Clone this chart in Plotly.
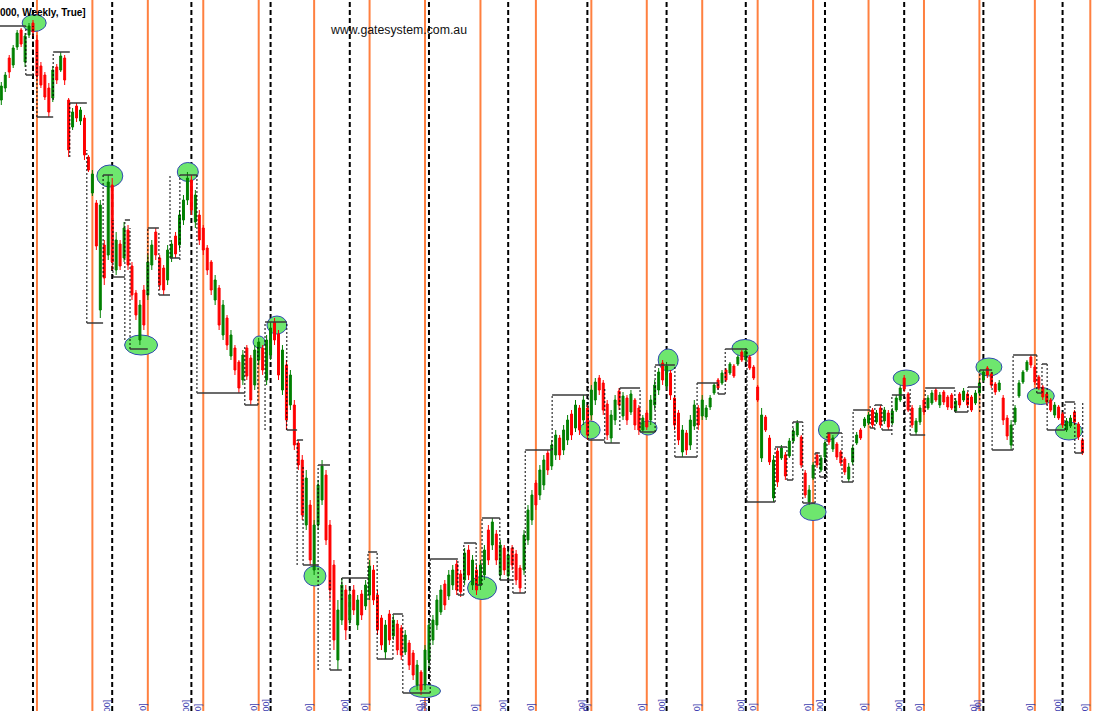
import plotly.graph_objects as go

# ---------------- price data (weekly bars, arbitrary price units) ----------------
weeks = list(range(274))

open_ = [
    611, 623, 653, 646, 664, 681, 649, 676, 688, 671,
    645, 636, 623, 613, 644, 641, 653, 611, 584, 605,
    590, 593, 554, 518, 508, 401, 466, 456, 526, 441,
    467, 453, 481, 445, 418, 371, 421, 416, 446, 479,
    453, 443, 431, 453, 475, 466, 491, 511, 531, 489,
    496, 483, 463, 449, 411, 423, 376, 393, 355, 363,
    349, 331, 363, 353, 326, 351, 363, 331, 356, 389,
    377, 321, 346, 306, 306, 268, 251, 186, 206, 141,
    186, 211, 236, 186, 146, 51, 91, 121, 91, 121,
    86, 117, 105, 116, 141, 116, 93, 59, 97, 75,
    87, 83, 59, 68, 58, 26, 39, 26, 51, 71,
    86, 99, 127, 115, 126, 147, 137, 131, 161, 126,
    141, 126, 136, 181, 166, 177, 136, 163, 135, 163,
    157, 143, 141, 171, 191, 228, 216, 226, 258, 245,
    256, 273, 261, 271, 297, 283, 303, 291, 303, 296,
    311, 333, 328, 307, 273, 291, 320, 295, 313, 299,
    311, 303, 281, 298, 291, 306, 321, 348, 325, 338,
    313, 298, 259, 278, 266, 285, 303, 295, 294, 304,
    318, 331, 328, 341, 338, 345, 347, 359, 351, 354,
    344, 324, 253, 294, 273, 213, 260, 253, 256, 255,
    270, 276, 274, 238, 209, 233, 256, 241, 254, 277,
    262, 267, 259, 252, 232, 249, 268, 281, 285, 288,
    301, 289, 303, 290, 298, 288, 301, 311, 333, 317,
    303, 279, 289, 311, 303, 308, 321, 306, 319, 314,
    316, 300, 317, 311, 317, 314, 308, 318, 331, 343,
    337, 327, 321, 313, 293, 266, 289, 315, 329, 341,
    354, 344, 334, 324, 317, 311, 296, 304, 297, 281,
    285, 299, 287, 271,
]
high = [
    629, 639, 656, 666, 681, 683, 678, 688, 691, 676,
    649, 639, 628, 645, 647, 659, 656, 613, 603, 608,
    604, 596, 556, 541, 511, 511, 471, 536, 533, 479,
    471, 489, 486, 449, 421, 411, 426, 456, 471, 483,
    456, 446, 466, 471, 479, 501, 516, 539, 536, 521,
    501, 486, 466, 451, 436, 426, 411, 396, 381, 366,
    351, 361, 366, 356, 366, 373, 366, 376, 389, 393,
    381, 366, 351, 341, 311, 271, 256, 241, 211, 191,
    231, 251, 241, 191, 151, 111, 133, 126, 121, 126,
    116, 121, 131, 151, 146, 121, 96, 91, 101, 96,
    91, 86, 81, 71, 61, 51, 41, 66, 91, 96,
    116, 126, 131, 141, 146, 151, 141, 163, 166, 156,
    146, 151, 166, 186, 193, 181, 171, 166, 161, 166,
    161, 146, 181, 206, 221, 231, 246, 256, 261, 271,
    281, 276, 286, 296, 301, 311, 306, 316, 306, 326,
    333, 336, 331, 311, 301, 316, 323, 319, 316, 321,
    313, 306, 296, 301, 316, 331, 343, 351, 349, 341,
    316, 301, 286, 281, 296, 311, 306, 316, 306, 316,
    328, 333, 341, 343, 349, 347, 356, 361, 363, 356,
    346, 326, 303, 296, 276, 256, 263, 266, 259, 273,
    283, 291, 276, 241, 226, 249, 259, 256, 271, 279,
    276, 269, 261, 254, 248, 266, 279, 283, 294, 299,
    303, 301, 306, 304, 301, 303, 316, 326, 336, 319,
    306, 293, 306, 313, 316, 321, 323, 319, 321, 316,
    318, 313, 319, 323, 319, 316, 321, 331, 341, 345,
    339, 329, 331, 316, 296, 291, 306, 331, 341, 351,
    356, 346, 336, 326, 319, 313, 309, 306, 299, 293,
    296, 301, 289, 273,
]
low = [
    606, 619, 633, 643, 661, 664, 644, 673, 675, 631,
    623, 611, 594, 609, 627, 639, 626, 554, 581, 589,
    586, 551, 539, 515, 461, 393, 426, 451, 441, 436,
    441, 449, 441, 411, 391, 366, 381, 411, 441, 451,
    421, 416, 426, 449, 453, 461, 486, 506, 496, 483,
    466, 456, 436, 416, 406, 381, 371, 361, 351, 336,
    318, 326, 331, 306, 321, 346, 336, 326, 351, 366,
    331, 316, 281, 301, 261, 241, 191, 181, 146, 136,
    181, 206, 166, 111, 61, 41, 86, 71, 86, 96,
    81, 91, 101, 111, 106, 76, 61, 52, 66, 71,
    56, 51, 56, 41, 31, 21, 16, 21, 43, 66,
    81, 96, 101, 111, 121, 116, 114, 126, 131, 121,
    116, 121, 131, 146, 161, 146, 131, 136, 131, 141,
    126, 118, 136, 166, 186, 201, 211, 221, 236, 241,
    251, 251, 256, 266, 271, 279, 276, 286, 271, 291,
    306, 316, 296, 271, 268, 286, 301, 291, 286, 296,
    281, 276, 279, 281, 286, 301, 316, 326, 321, 311,
    281, 266, 254, 256, 261, 281, 281, 291, 291, 301,
    316, 321, 326, 329, 336, 333, 345, 349, 349, 341,
    331, 309, 249, 279, 246, 209, 224, 251, 231, 253,
    268, 274, 243, 213, 206, 231, 243, 239, 251, 266,
    259, 251, 245, 236, 229, 246, 266, 271, 283, 286,
    283, 287, 283, 287, 281, 286, 299, 309, 319, 299,
    283, 276, 286, 296, 301, 306, 309, 303, 306, 301,
    301, 298, 303, 309, 303, 299, 306, 316, 329, 333,
    323, 316, 319, 286, 271, 261, 286, 313, 327, 339,
    343, 326, 321, 311, 306, 299, 293, 291, 283, 279,
    283, 286, 271, 256,
]
close = [
    625, 636, 639, 663, 678, 667, 675, 685, 679, 635,
    626, 614, 599, 641, 631, 655, 631, 561, 599, 593,
    601, 556, 541, 537, 465, 506, 433, 529, 449, 471,
    445, 483, 446, 416, 396, 406, 386, 449, 466, 456,
    426, 421, 461, 467, 457, 496, 511, 533, 501, 516,
    471, 461, 441, 421, 431, 386, 406, 366, 376, 341,
    323, 356, 335, 311, 361, 369, 341, 371, 383, 371,
    336, 361, 291, 336, 266, 246, 196, 233, 151, 186,
    226, 245, 171, 121, 71, 101, 126, 81, 116, 101,
    111, 96, 126, 145, 111, 81, 66, 86, 71, 91,
    61, 56, 76, 46, 36, 46, 21, 61, 86, 91,
    111, 121, 106, 136, 141, 121, 119, 158, 136, 151,
    121, 146, 161, 151, 189, 151, 166, 141, 156, 146,
    131, 123, 176, 201, 216, 206, 241, 251, 241, 266,
    276, 256, 281, 291, 276, 306, 281, 311, 276, 321,
    329, 321, 301, 276, 296, 311, 306, 315, 291, 317,
    286, 281, 293, 284, 311, 326, 339, 331, 345, 316,
    286, 271, 281, 261, 291, 306, 286, 311, 303, 313,
    326, 323, 338, 331, 347, 335, 354, 351, 360, 343,
    333, 311, 296, 281, 249, 251, 229, 263, 235, 270,
    280, 288, 246, 216, 221, 246, 246, 253, 268, 269,
    273, 254, 248, 239, 244, 263, 276, 273, 292, 296,
    286, 298, 286, 301, 284, 300, 313, 323, 322, 301,
    286, 290, 303, 299, 313, 318, 311, 316, 309, 304,
    303, 310, 306, 320, 306, 301, 318, 328, 339, 336,
    326, 319, 328, 291, 275, 286, 303, 328, 339, 349,
    346, 329, 323, 314, 309, 301, 306, 293, 286, 290,
    293, 289, 274, 258,
]

# ---------------- time cycles (week index) ----------------
orange_cycle_weeks = [9, 23, 37, 51, 65, 79, 93, 107, 121, 135,
                      149, 163, 177, 191, 205, 219, 233, 247, 261, 275]
black_cycle_weeks = [8, 28, 48, 68, 88, 108, 128, 148, 168, 188,
                     208, 228, 248, 268]
orange_label = "[Cycle 14, 1.000]"
black_label = "[Cycle 20, 1.000]"

# ---------------- swing boxes (start week, end week, high, low, solid edge) ----------------
box_start = [-0.8, 6.2, 9.0, 13.1, 17.3, 21.6, 25.7, 28.2, 31.2, 32.5,
             37.0, 39.8, 42.6, 45.1, 49.4, 61.5, 66.6, 72.1, 74.7, 76.2,
             80.0, 83.0, 86.0, 92.6, 94.9, 98.9, 101.4, 108.3, 115.3, 116.8,
             119.9, 121.4, 125.9, 128.0, 129.2, 132.3, 139.1, 148.2, 152.4, 156.2,
             161.3, 165.1, 170.1, 175.7, 181.0, 182.8, 188.3, 195.4, 198.4, 199.9,
             202.4, 205.5, 206.7, 208.5, 212.3, 215.1, 219.4, 220.6, 222.4, 224.9,
             229.5, 233.3, 240.8, 244.1, 247.1, 250.2, 255.5, 261.5, 262.8, 264.1,
             268.6, 271.1]
box_end = [6.2, 8.0, 13.1, 17.3, 21.6, 25.7, 28.2, 31.2, 32.5, 37.0,
           39.8, 42.6, 45.1, 49.4, 61.5, 64.8, 72.1, 74.7, 76.2, 80.0,
           83.0, 86.0, 92.6, 94.9, 98.9, 101.4, 108.3, 115.3, 116.8, 119.9,
           121.4, 125.9, 128.0, 129.2, 132.3, 139.1, 148.2, 152.4, 156.2, 161.3,
           165.1, 170.1, 175.7, 181.0, 182.8, 188.3, 195.4, 198.4, 199.9, 202.4,
           205.5, 206.7, 208.3, 212.3, 215.1, 219.4, 220.6, 222.4, 224.9, 228.2,
           233.3, 240.8, 244.1, 247.1, 250.2, 255.5, 261.5, 262.8, 264.1, 268.6,
           271.1, 273.1]
box_high = [685, 685, 659, 659, 608, 561, 536, 491, 491, 483,
            483, 479, 536, 536, 536, 366, 389, 389, 271, 246,
            246, 133, 133, 159, 159, 97, 97, 152, 152, 168,
            168, 193, 193, 171, 166, 261, 316, 331, 323, 323,
            321, 346, 346, 328, 328, 362, 362, 264, 264, 289,
            289, 258, 258, 278, 278, 301, 306, 306, 306, 316,
            323, 323, 323, 324, 341, 341, 356, 356, 347, 347,
            309, 309]
box_low = [685, 636, 594, 611, 554, 388, 434, 434, 371, 362,
           416, 416, 453, 451, 318, 306, 281, 281, 146, 146,
           41, 41, 111, 111, 52, 52, 18, 18, 116, 116,
           126, 126, 131, 131, 118, 118, 261, 271, 268, 281,
           279, 279, 254, 254, 317, 317, 209, 209, 231, 231,
           208, 208, 234, 229, 229, 229, 283, 281, 281, 276,
           276, 299, 299, 299, 299, 261, 261, 318, 318, 281,
           281, 258]
box_solid = ["H", "L", "L", "H", "H", "L", "H", "L", "H", "L",
             "H", "L", "L", "H", "L", "L", "H", "L", "H", "L",
             "H", "L", "H", "H", "L", "H", "L", "H", "L", "H",
             "L", "H", "L", "L", "L", "H", "H", "L", "L", "H",
             "L", "H", "L", "H", "L", "H", "L", "H", "L", "H",
             "L", "H", "L", "H", "L", "H", "L", "H", "L", "H",
             "L", "H", "L", "H", "H", "L", "H", "L", "H", "L",
             "H", "L"]

# ---------------- swing turning points (ellipses) ----------------
swing_week = [8.3, 27.4, 35.3, 47.1, 65.1, 69.6, 79.2, 107.0, 121.4, 148.7,
              163.3, 168.4, 187.8, 205.0, 209.0, 228.5, 249.4, 262.5, 269.6]
swing_price = [688, 535, 366, 539, 369, 386, 135, 20, 123, 281,
               283, 351, 363, 199, 281, 333, 344, 315, 280]
# ellipse sizes in screen pixels (style)
swing_w_px = [24, 26, 33, 21, 12, 20, 22, 31, 29, 20, 18, 20, 26, 26, 21, 26, 26, 27, 27]
swing_h_px = [17, 22, 20, 19, 12, 18, 20, 13, 23, 18, 14, 22, 17, 17, 20, 16, 18, 17, 18]

# ---------------- figure ----------------
W, H = 1100, 711
X_RANGE = [-0.33, 277.45]
Y_RANGE = [0, 711]
px_per_week = W / (X_RANGE[1] - X_RANGE[0])
px_per_price = H / (Y_RANGE[1] - Y_RANGE[0])

fig = go.Figure()

# box sides: each box draws its left side; right side only when no box follows directly
dx, dy = [], []
sx, sy = [], []
n_box = len(box_start)
for k in range(n_box):
    s, e, hi, lo, sol = box_start[k], box_end[k], box_high[k], box_low[k], box_solid[k]
    if hi != lo:
        dx += [s, s, None]
        dy += [lo, hi, None]
        if k == n_box - 1 or abs(box_start[k + 1] - e) > 0.05:
            dx += [e, e, None]
            dy += [lo, hi, None]
    lvl = hi if sol == "H" else lo
    sx += [s, e, None]
    sy += [lvl, lvl, None]

fig.add_trace(go.Scatter(x=dx, y=dy, mode="lines", hoverinfo="skip", showlegend=False,
                         line=dict(color="#000000", width=1, dash="2px,2px")))
fig.add_trace(go.Scatter(x=sx, y=sy, mode="lines", hoverinfo="skip", showlegend=False,
                         line=dict(color="#3a3a3a", width=1.5)))

fig.add_trace(go.Candlestick(
    x=weeks, open=open_, high=high, low=low, close=close,
    increasing=dict(line=dict(color="#008000", width=1), fillcolor="#008000"),
    decreasing=dict(line=dict(color="#ff0000", width=1), fillcolor="#ff0000"),
    whiskerwidth=0, showlegend=False, hoverinfo="skip",
))

shapes = []
for wk, pr, wpx, hpx in zip(swing_week, swing_price, swing_w_px, swing_h_px):
    hw = wpx / 2 / px_per_week
    hh = hpx / 2 / px_per_price
    shapes.append(dict(type="circle", xref="x", yref="y", layer="below",
                       x0=wk - hw, x1=wk + hw, y0=pr - hh, y1=pr + hh,
                       fillcolor="#6ee66e", line=dict(color="#3048b0", width=1)))
for wk in orange_cycle_weeks:
    shapes.append(dict(type="line", xref="x", yref="paper", layer="below",
                       x0=wk, x1=wk, y0=0, y1=1,
                       line=dict(color="#ff8040", width=2)))
for wk in black_cycle_weeks:
    shapes.append(dict(type="line", xref="x", yref="paper", layer="below",
                       x0=wk, x1=wk, y0=0, y1=1,
                       line=dict(color="#000000", width=2, dash="5px,3px")))

annotations = [
    dict(text="<b>[XAO, 1.000, Weekly, True]</b>", xref="paper", yref="paper",
         x=88 / W, y=1 - 12 / H, xanchor="right", yanchor="middle", showarrow=False,
         font=dict(family="Liberation Sans, Arial", size=10, color="#000000")),
    dict(text="www.gatesystem.com.au", xref="paper", yref="paper",
         x=398 / W, y=1 - 30 / H, xanchor="center", yanchor="middle", showarrow=False,
         font=dict(family="Liberation Sans, Arial", size=12.3, color="#111111")),
]
label_offset = 5 / px_per_week
for wk in orange_cycle_weeks[2:]:
    annotations.append(dict(text=orange_label, xref="x", yref="paper",
                            x=wk - label_offset, y=1 - 701 / H, xanchor="center", yanchor="top",
                            textangle=-90, showarrow=False,
                            font=dict(family="Liberation Sans, Arial", size=9, color="#4040b0")))
for wk in black_cycle_weeks[1:]:
    annotations.append(dict(text=black_label, xref="x", yref="paper",
                            x=wk - label_offset, y=1 - 697 / H, xanchor="center", yanchor="top",
                            textangle=-90, showarrow=False,
                            font=dict(family="Liberation Sans, Arial", size=9, color="#4040b0")))

fig.update_layout(
    width=W, height=H,
    margin=dict(l=0, r=0, t=0, b=0),
    paper_bgcolor="white", plot_bgcolor="white",
    showlegend=False,
    shapes=shapes, annotations=annotations,
    xaxis=dict(range=X_RANGE, visible=False, rangeslider=dict(visible=False), fixedrange=True),
    yaxis=dict(range=Y_RANGE, visible=False, fixedrange=True),
)

fig.write_html("out.html")
